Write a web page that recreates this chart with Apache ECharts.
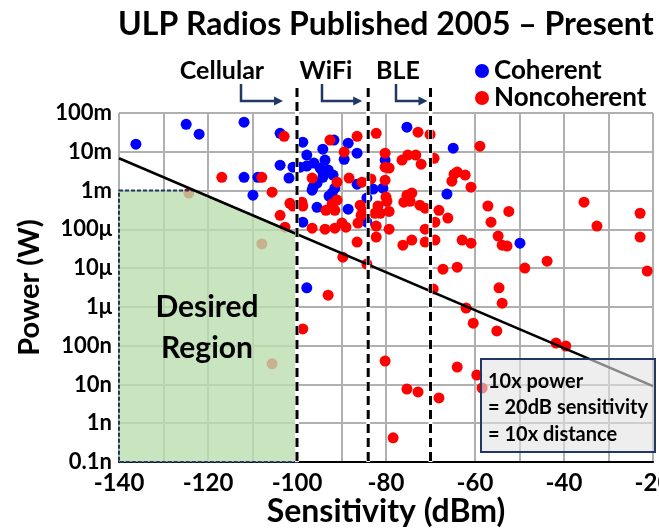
<!DOCTYPE html>
<html>
<head>
<meta charset="utf-8">
<script src="https://cdn.jsdelivr.net/npm/echarts@6/dist/echarts.min.js"></script>
<style>html,body{margin:0;padding:0;background:#fff}#main{width:659px;height:529px}</style>
</head>
<body>
<div id="main"></div>
<script>
// sensitivity in dBm, power in W
var coherentSens = [-136.2, -124.9, -122.0, -111.9, -103.8, -103.8, -111.9, -108.8, -109.9, -101.8,
	-98.7, -97.8, -100.9, -99.3, -97.8, -96.2, -94.8, -94.2, -93.0, -91.9,
	-94.2, -95.5, -96.4, -96.6, -91.5, -92.1, -92.8, -95.5, -88.5, -98.7,
	-84.3, -91.7, -88.5, -94.2, -86.5, -89.4, -93.7, -80.2, -86.5, -82.9,
	-80.7, -84.3, -75.3, -64.9, -66.3, -49.9, -97.8];
var coherentPower = [1.57e-2, 5.1e-2, 2.84e-2, 5.8e-2, 3.0e-2, 4.5e-3, 2.2e-3, 2.2e-3, 7.6e-4, 2.1e-3,
	1.77e-2, 8.2e-3, 4.0e-3, 4.0e-3, 4.3e-3, 5.1e-3, 3.8e-3, 3.0e-3, 3.4e-3, 2.5e-3,
	2.2e-3, 1.55e-3, 1.22e-3, 1.02e-3, 1.15e-3, 8.6e-4, 7.2e-4, 3.7e-4, 3.3e-4, 1.53e-4,
	1.53e-4, 2.0e-2, 1.67e-2, 1.17e-2, 9.2e-3, 6.4e-3, 6.1e-3, 6.1e-3, 1.46e-3, 1.09e-3,
	1.15e-3, 6.4e-4, 4.3e-2, 1.24e-2, 8.1e-4, 4.4e-5, 3.1e-6];

var noncoherentSens = [-102.9, -116.9, -107.9, -105.6, -124.3, -101.6, -100.9, -98.9, -98.7, -103.8,
	-96.6, -96.6, -102.7, -107.9, -98.7, -105.6, -92.6, -86.5, -89.4, -88.3,
	-91.0, -92.1, -91.0, -93.5, -91.5, -85.8, -85.2, -89.9, -86.3, -93.7,
	-91.5, -89.0, -86.5, -82.2, -80.2, -76.4, -75.1, -73.3, -72.1, -69.2,
	-72.8, -70.1, -80.2, -79.3, -83.4, -85.4, -80.2, -75.3, -74.2, -76.0,
	-74.6, -80.0, -79.8, -81.8, -81.3, -82.5, -79.3, -85.6, -72.4, -71.2,
	-68.1, -66.1, -69.0, -82.2, -79.3, -71.2, -82.2, -76.2, -74.2, -71.2,
	-69.0, -62.9, -60.9, -89.7, -84.3, -67.2, -64.0, -64.7, -64.0, -62.2,
	-65.2, -60.9, -58.9, -57.1, -52.4, -56.4, -54.8, -53.9, -52.8, -43.8,
	-48.8, -54.6, -69.4, -35.5, -22.9, -32.6, -22.9, -21.3, -93.0, -62.0,
	-60.4, -53.9, -55.1, -41.8, -39.6, -59.6, -58.4, -80.2, -64.0, -75.3,
	-72.8, -68.1, -78.4];
var noncoherentPower = [2.5e-2, 2.2e-3, 2.2e-3, 9.1e-4, 8.6e-4, 4.7e-4, 4.0e-4, 5.0e-4, 4.0e-4, 2.3e-4,
	2.1e-3, 1.07e-4, 1.14e-4, 4.2e-5, 2.7e-7, 3.4e-8, 2.0e-2, 2.5e-2, 9.8e-3, 2.1e-3,
	1.64e-3, 4.5e-4, 5.7e-4, 3.1e-4, 3.1e-4, 4.2e-4, 2.9e-4, 1.45e-4, 1.45e-4, 1.01e-4,
	1.07e-4, 1.14e-4, 4.7e-5, 3.0e-2, 9.2e-3, 6.1e-3, 8.2e-3, 8.2e-3, 4.8e-3, 6.8e-3,
	3.2e-2, 2.8e-2, 4.0e-3, 3.8e-3, 2.0e-3, 1.64e-3, 1.85e-3, 7.6e-4, 8.6e-4, 5.0e-4,
	5.3e-4, 6.8e-4, 5.3e-4, 4.0e-4, 2.6e-4, 2.6e-4, 2.9e-4, 2.3e-4, 4.2e-4, 3.5e-4,
	3.1e-4, 1.95e-4, 1.53e-4, 1.21e-4, 1.01e-4, 1.01e-4, 6.3e-5, 3.9e-5, 5.3e-5, 4.7e-5,
	5.3e-5, 5.3e-5, 4.4e-5, 1.92e-5, 1.27e-5, 9.4e-6, 1.06e-5, 2.65e-3, 3.0e-3, 2.5e-3,
	1.75e-3, 1.22e-3, 1.39e-2, 4.0e-4, 2.9e-4, 1.53e-4, 6.7e-5, 3.9e-5, 3.7e-5, 1.51e-5,
	1.0e-5, 3.1e-6, 2.9e-6, 5.0e-4, 2.6e-4, 1.21e-4, 6.3e-5, 8.4e-6, 2.0e-6, 9.3e-7,
	3.8e-7, 1.25e-6, 2.4e-7, 1.17e-7, 9.8e-8, 1.75e-8, 8.1e-9, 4.0e-8, 2.8e-8, 7.6e-9,
	6.4e-9, 4.5e-9, 4.2e-10];

var powerTickLabels = ['0.1n', '1n', '10n', '100n', '1μ', '10μ', '100μ', '1m', '10m', '100m'];

// 10x power per ~20 dB trend line
var trendSens = [-140, -20];
var trendPower = [6.8e-3, 9.1e-9];

// "Desired Region" outline
var regionSens = [-140, -123.0, -100, -100, -140];
var regionPower = [1e-3, 1e-3, 7.5e-5, 1e-10, 1e-10];

var standardNames = ['Cellular', 'WiFi', 'BLE'];
var standardSens = [-100, -84, -70];

function pairs(xs, ys) {
	return xs.map(function (x, i) { return [x, ys[i]]; });
}

var FONT = 'Lato';
var NAVY = '#1f3864';

var myChart = echarts.init(document.getElementById('main'));

var option = {
	animation: false,
	title: {
		text: 'ULP Radios Published 2005 – Present',
		left: 113,
		top: 4,
		textStyle: { fontFamily: FONT, fontSize: 32, fontWeight: 'bold', color: '#000' }
	},
	legend: {
		data: ['Coherent', 'Noncoherent'],
		orient: 'vertical',
		left: 475,
		top: 58,
		padding: 0,
		icon: 'circle',
		itemWidth: 14,
		itemHeight: 14,
		itemGap: 1,
		textStyle: { fontFamily: FONT, fontSize: 26, fontWeight: 'bold', color: '#000' }
	},
	grid: { left: 119, right: 6, top: 113, bottom: 67, outerBoundsMode: 'none', containLabel: false },
	xAxis: {
		type: 'value',
		min: -140,
		max: -20,
		interval: 10,
		name: 'Sensitivity (dBm)',
		nameLocation: 'middle',
		nameGap: 34,
		nameMoveOverlap: false,
		nameTextStyle: { fontFamily: FONT, fontSize: 32, fontWeight: 'bold', color: '#000' },
		axisLine: { lineStyle: { color: '#000', width: 2 } },
		axisTick: { show: false },
		axisLabel: {
			margin: 9,
			fontFamily: FONT, fontSize: 24, fontWeight: 'bold', color: '#000',
			formatter: function (v) { return v % 20 === 0 ? String(v) : ''; }
		},
		splitLine: { show: true, lineStyle: { color: '#b0b0b0', width: 2 } }
	},
	yAxis: {
		type: 'log',
		logBase: 10,
		min: 1e-10,
		max: 1e-1,
		name: 'Power (W)',
		nameLocation: 'middle',
		nameGap: 70,
		nameTextStyle: { fontFamily: FONT, fontSize: 29, fontWeight: 'bold', color: '#000' },
		axisLine: { show: false },
		axisTick: { show: false },
		axisLabel: {
			margin: 7,
			fontFamily: FONT, fontSize: 22, fontWeight: 'bold', color: '#000',
			formatter: function (v) {
				var i = Math.round(Math.log10(v)) + 10;
				return powerTickLabels[i] || '';
			}
		},
		splitLine: { show: true, lineStyle: { color: '#b0b0b0', width: 2 } }
	},
	series: [{
		name: 'Coherent',
		type: 'scatter',
		symbolSize: 11,
		itemStyle: { color: '#0000ff', opacity: 1 },
		z: 2,
		data: pairs(coherentSens, coherentPower)
	}, {
		name: 'Noncoherent',
		type: 'scatter',
		symbolSize: 11,
		itemStyle: { color: '#ff0000', opacity: 1 },
		z: 2,
		data: pairs(noncoherentSens, noncoherentPower)
	}, {
		name: 'Desired Region',
		type: 'custom',
		silent: true,
		z: 3,
		data: [[regionSens[0], regionPower[0]]],
		renderItem: function (params, api) {
			var pts = regionSens.map(function (s, i) { return api.coord([s, regionPower[i]]); });
			return {
				type: 'polygon',
				shape: { points: pts },
				style: { fill: 'rgba(186,222,176,0.8)', stroke: NAVY, lineWidth: 2, lineDash: [4, 2] }
			};
		}
	}, {
		name: 'Trend',
		type: 'line',
		silent: true,
		z: 4,
		symbol: 'none',
		lineStyle: { color: '#000', width: 2.5 },
		data: pairs(trendSens, trendPower)
	}]
};
myChart.setOption(option);

/* annotations placed from the axes */
var yBottom = myChart.convertToPixel({ yAxisIndex: 0 }, 1e-10);
var yTop = 88;
var labelX = [222, 326, 398];
var arrowStart = [241, 322, 396];
var arrowGap = [14, 6, 3];
var graphics = [];

standardSens.forEach(function (s, i) {
	var x = myChart.convertToPixel({ xAxisIndex: 0 }, s);
	graphics.push({
		type: 'line', z: 20, silent: true,
		shape: { x1: x, y1: yTop, x2: x, y2: yBottom },
		style: { stroke: '#fff', lineWidth: 4 }
	});
	graphics.push({
		type: 'line', z: 21, silent: true,
		shape: { x1: x, y1: yTop, x2: x, y2: yBottom },
		style: { stroke: '#000', lineWidth: 3, lineDash: [9, 5] }
	});
	graphics.push({
		type: 'text', z: 21, silent: true,
		style: {
			text: standardNames[i], x: labelX[i], y: 71,
			align: 'center', verticalAlign: 'middle',
			font: 'bold 25px ' + FONT, fill: '#000'
		}
	});
	var xe = x - arrowGap[i];
	graphics.push({
		type: 'polyline', z: 21, silent: true,
		shape: { points: [[arrowStart[i], 84], [arrowStart[i], 101], [xe - 7, 101]] },
		style: { stroke: NAVY, lineWidth: 2.5, fill: null }
	});
	graphics.push({
		type: 'polygon', z: 21, silent: true,
		shape: { points: [[xe - 9, 96.5], [xe, 101], [xe - 9, 105.5]] },
		style: { fill: NAVY }
	});
});

graphics.push({
	type: 'text', z: 21, silent: true,
	style: {
		text: 'Desired\nRegion', x: 207, y: 328, align: 'center', verticalAlign: 'middle',
		font: 'bold 30px ' + FONT, lineHeight: 41, fill: '#000'
	}
});

graphics.push({
	type: 'rect', z: 30, silent: true,
	shape: { x: 481, y: 359, width: 174, height: 93 },
	style: { fill: 'rgba(226,226,226,0.6)', stroke: NAVY, lineWidth: 2 }
});
graphics.push({
	type: 'text', z: 31, silent: true,
	style: {
		text: '10x power\n= 20dB sensitivity\n= 10x distance', x: 488, y: 408,
		align: 'left', verticalAlign: 'middle',
		font: 'bold 20px ' + FONT, lineHeight: 26.5, fill: '#000'
	}
});

myChart.setOption({ graphic: graphics });
</script>
</body>
</html>
